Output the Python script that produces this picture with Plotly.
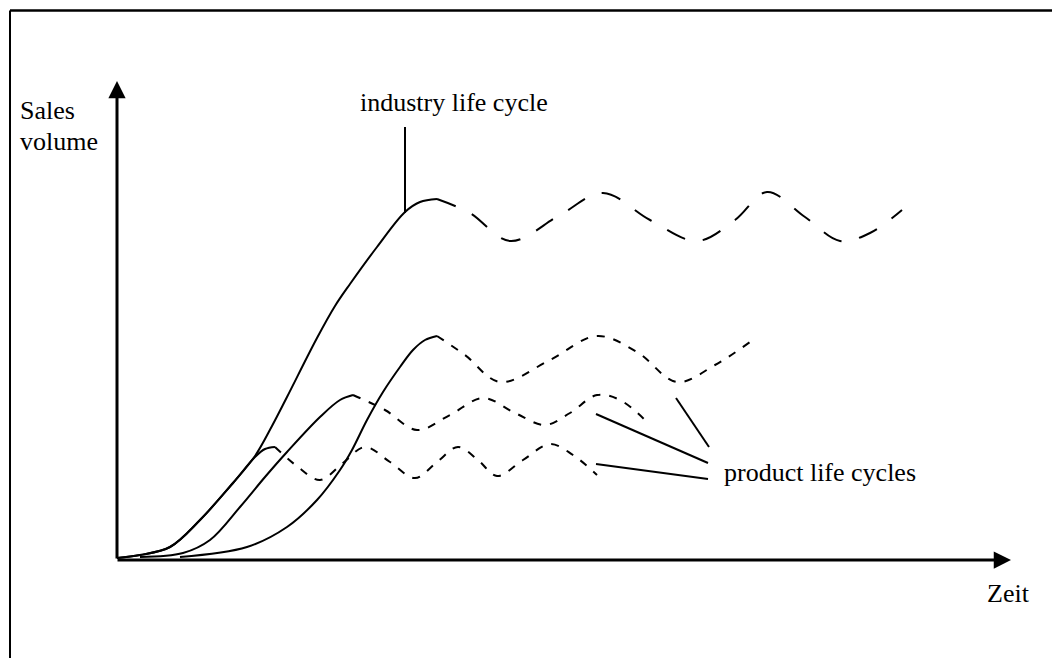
import plotly.graph_objects as go

# ---- data (time units / sales-volume units) ----
industry_solid_t = [0, 23, 53, 83, 116, 138, 155, 170, 200, 218, 233, 260, 288, 303, 320]
industry_solid_s = [2, 5, 13, 40, 77, 104, 134, 163, 222, 254, 276, 313, 348, 358, 361]
industry_dash_t = [320, 353, 393, 443, 486, 533, 580, 618, 650, 688, 723, 753, 785]
industry_dash_s = [361, 347, 319, 345, 367, 340, 319, 340, 368, 343, 319, 327, 350]

p1_solid_t = [0, 23, 53, 83, 116, 138, 148, 158]
p1_solid_s = [2, 5, 13, 40, 77, 103, 111, 113]
p1_dash_t = [158, 181, 203, 226, 248, 273, 298, 320, 341, 361, 380, 406, 433, 456, 480]
p1_dash_s = [113, 93, 80, 97, 113, 98, 82, 98, 113, 100, 84, 100, 116, 105, 85]

p2_solid_t = [23, 66, 93, 123, 148, 170, 203, 223, 236]
p2_solid_s = [3, 7, 20, 53, 83, 108, 143, 160, 165]
p2_dash_t = [236, 268, 300, 333, 366, 398, 428, 453, 480, 503, 530]
p2_dash_s = [165, 150, 130, 145, 162, 147, 135, 147, 165, 160, 138]

p3_solid_t = [63, 130, 170, 200, 223, 235, 250, 266, 283, 296, 308, 320]
p3_solid_s = [3, 13, 33, 60, 90, 110, 140, 168, 193, 210, 220, 224]
p3_dash_t = [320, 348, 383, 433, 480, 520, 560, 598, 633]
p3_dash_s = [224, 205, 178, 200, 224, 208, 178, 195, 218]

# leader lines for labels
lead_industry_t = [288, 288]
lead_industry_s = [433, 347]
lead_p_a_t = [479, 591]
lead_p_a_s = [146, 97]
lead_p_b_t = [479, 591]
lead_p_b_s = [96, 81]
lead_p_c_t = [559, 592]
lead_p_c_s = [162, 113]

labels = {
    "y1": "Sales",
    "y2": "volume",
    "x": "Zeit",
    "industry": "industry life cycle",
    "product": "product life cycles",
}

FONT = "Liberation Serif"
fig = go.Figure()

def add_line(t, s, dash="solid", width=2, spline=True):
    fig.add_trace(go.Scatter(
        x=t, y=s, mode="lines",
        line=dict(color="black", width=width, dash=dash,
                  shape="spline" if spline else "linear", smoothing=1.0),
        hoverinfo="skip", showlegend=False))

# industry
add_line(industry_solid_t, industry_solid_s)
add_line(industry_dash_t, industry_dash_s, dash="20px,18px")
# products
add_line(p1_solid_t, p1_solid_s)
add_line(p1_dash_t, p1_dash_s, dash="8px,9px")
add_line(p2_solid_t, p2_solid_s)
add_line(p2_dash_t, p2_dash_s, dash="8px,9px")
add_line(p3_solid_t, p3_solid_s)
add_line(p3_dash_t, p3_dash_s, dash="8px,9px")
# leaders
for t, s in [(lead_industry_t, lead_industry_s), (lead_p_a_t, lead_p_a_s),
             (lead_p_b_t, lead_p_b_s), (lead_p_c_t, lead_p_c_s)]:
    add_line(t, s, spline=False)

# axes with arrows
fig.add_annotation(x=0, y=479, ax=0, ay=0, xref="x", yref="y", axref="x", ayref="y",
                   text="", showarrow=True, arrowhead=2, arrowsize=1.15, arrowwidth=3,
                   arrowcolor="black")
fig.add_annotation(x=894, y=0, ax=-1, ay=0, xref="x", yref="y", axref="x", ayref="y",
                   text="", showarrow=True, arrowhead=2, arrowsize=1.15, arrowwidth=3,
                   arrowcolor="black")

# frame (left and top)
fig.add_shape(type="line", x0=-107, x1=-107, y0=-98, y1=549.5, xref="x", yref="y",
              line=dict(color="black", width=2))
fig.add_shape(type="line", x0=-107, x1=943, y0=549.5, y1=549.5, xref="x", yref="y",
              line=dict(color="black", width=2.5))

def add_text(txt, t, s):
    fig.add_annotation(x=t, y=s, text=txt, showarrow=False, xanchor="left",
                       yanchor="middle", xref="x", yref="y",
                       font=dict(family=FONT, size=26, color="black"))

add_text(labels["y1"], -99, 450)
add_text(labels["y2"], -99, 419)
add_text(labels["industry"], 241, 458)
add_text(labels["product"], 605, 88)
add_text(labels["x"], 868, -33)

# page body has an 8px margin: figure is placed at (8, 8) in the window
fig.update_layout(
    width=1052, height=650,
    margin=dict(l=0, r=0, t=0, b=0),
    paper_bgcolor="white", plot_bgcolor="white",
    xaxis=dict(range=[-109, 943], visible=False, fixedrange=True),
    yaxis=dict(range=[-98, 552], visible=False, fixedrange=True),
    showlegend=False,
)

fig.write_html("out.html")
